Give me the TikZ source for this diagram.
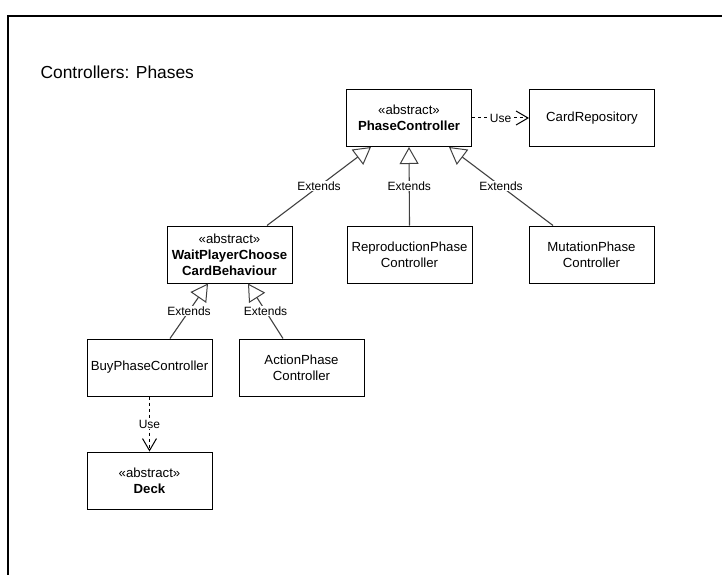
\documentclass[tikz,border=0pt]{standalone}
\usepackage{fontspec}
\setmainfont{Liberation Sans}
\usetikzlibrary{arrows.meta}
\begin{document}
\begin{tikzpicture}[x=1pt,y=-1pt,
  cls/.style={draw, line width=1pt, minimum width=125pt, minimum height=57pt,
    inner sep=0pt, align=center, font=\fontsize{13.2}{15.8}\selectfont},
  extends/.style={draw=black!75, line width=1.1pt,
    -{Triangle[open,length=17pt,width=19pt,line width=1pt]}},
  uses/.style={line width=1pt, dash pattern=on 3pt off 3pt,
    -{Straight Barb[length=12pt,width=14pt,line width=1pt]}},
  lbl/.style={fill=white, inner sep=0.6pt, font=\fontsize{12}{14}\selectfont}
]
\useasboundingbox (0,0) rectangle (722,575);
% outer frame
\draw[line width=1.5pt] (722,16) -- (8,16) -- (8,575);

\node[anchor=west, font=\fontsize{17.4}{20}\selectfont] (title) at (37,72) {Controllers: Phases};

% classes
\node[cls] (phase)  at (409,118)    {«abstract»\\\textbf{PhaseController}};
\node[cls] (repo)   at (592,118)    {CardRepository};
\node[cls] (wait)   at (229.5,254.5) {«abstract»\\\textbf{WaitPlayerChoose}\\\textbf{CardBehaviour}};
\node[cls] (repro)  at (409.5,254.5) {ReproductionPhase\\Controller};
\node[cls] (mut)    at (591.5,254.5) {MutationPhase\\Controller};
\node[cls] (buy)    at (149.5,367.5) {BuyPhaseController};
\node[cls] (action) at (301.5,367.5) {ActionPhase\\Controller};
\node[cls] (deck)   at (149.5,480.5) {«abstract»\\\textbf{Deck}};

% generalisations
\draw[extends] ([xshift=37.5pt]wait.north) -- node[lbl]{Extends} ([xshift=-38pt]phase.south);
\draw[extends] (repro.north) -- node[lbl]{Extends} (phase.south);
\draw[extends] ([xshift=-38.5pt]mut.north) -- node[lbl]{Extends} ([xshift=40pt]phase.south);
\draw[extends] ([xshift=20.5pt]buy.north) -- node[lbl]{Extends} ([xshift=-21.5pt]wait.south);
\draw[extends] ([xshift=-18.5pt]action.north) -- node[lbl]{Extends} ([xshift=18.5pt]wait.south);

% dependencies
\draw[uses] (phase.east) -- node[lbl]{Use} (repo.west);
\draw[uses] (buy.south) -- node[lbl]{Use} (deck.north);
\end{tikzpicture}
\end{document}
